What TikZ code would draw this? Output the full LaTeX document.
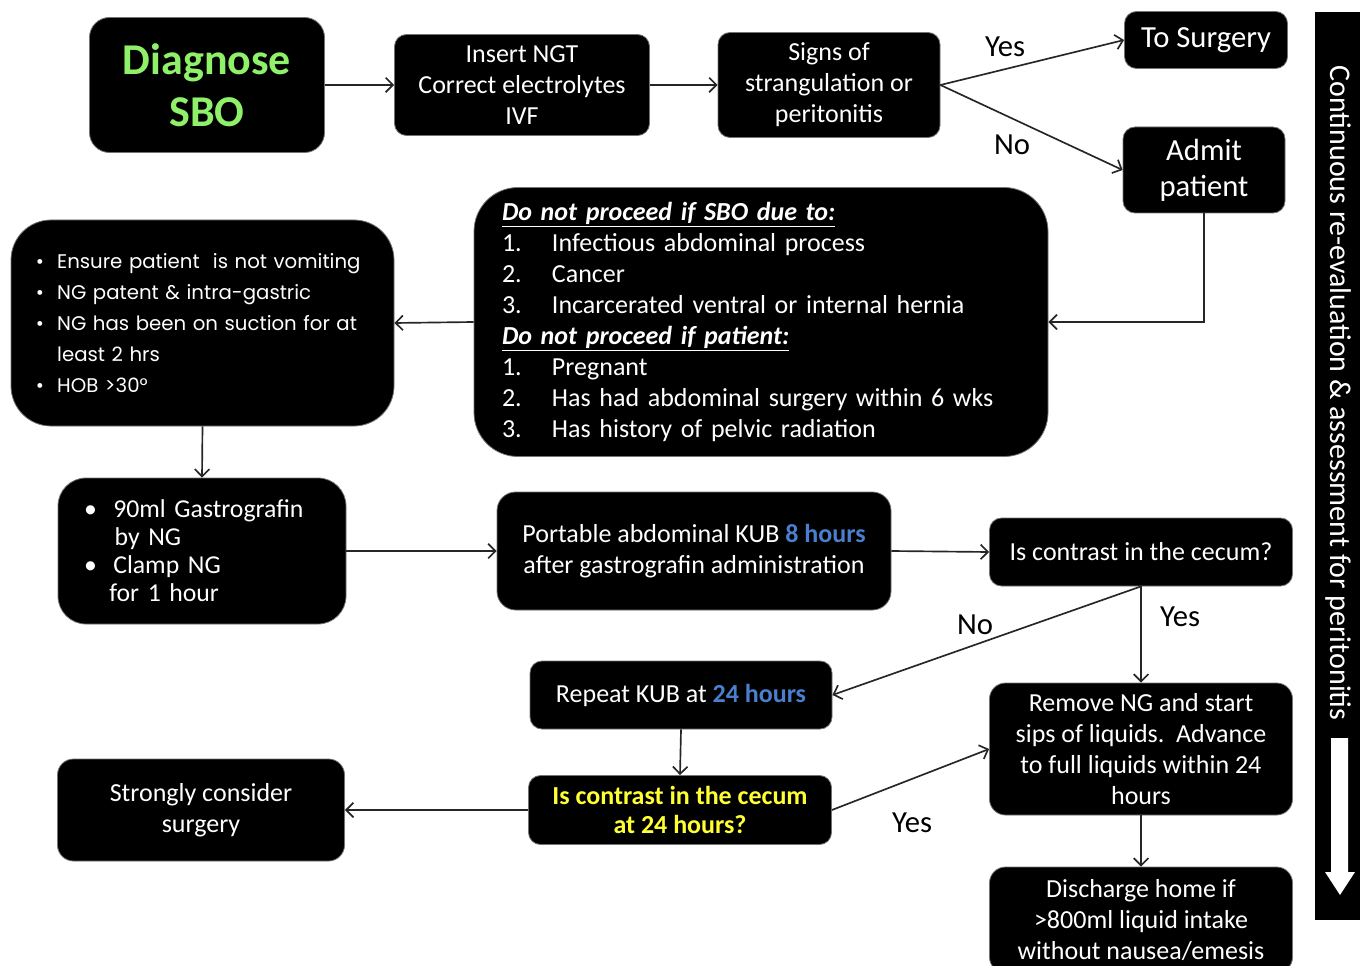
\documentclass[tikz,border=0pt]{standalone}
\usepackage{fontspec}
\setmainfont{Carlito}
\newfontfamily\gothic{Poppins}
\usetikzlibrary{arrows.meta,positioning,calc}
\definecolor{dxgreen}{HTML}{8FF06A}
\definecolor{hrblue}{HTML}{4A7FD0}
\definecolor{qyellow}{HTML}{FFFF33}
\newcommand{\bul}{\makebox[16pt][l]{\textbullet}}
\newcommand{\num}[1]{\makebox[37.5pt][l]{#1}}

\begin{document}
\begin{tikzpicture}[x=0.75pt,y=-0.75pt,
    box/.style={draw=black!55,line width=0.6pt,fill=black,text=white,align=center,
      rounded corners=9pt,inner sep=0pt,font=\fontsize{19.5}{23.3}\selectfont},
    arr/.style={draw=black!85,line width=1.25pt,-{Straight Barb[length=5.5pt,width=11pt]}},
    lbl/.style={font=\fontsize{23}{26}\selectfont,inner sep=0pt}]
  \useasboundingbox (0,0) rectangle (1360,966);

  % top row
  \node[box,rounded corners=15pt,minimum width=176.25pt,minimum height=101.25pt,
    text=dxgreen,font=\fontsize{33}{39}\selectfont\bfseries] (diag) at (207,85) {Diagnose\\SBO};
  \node[box,minimum width=191.25pt,minimum height=75.75pt] (ngt) at (522,85)
    {Insert NGT\\Correct electrolytes\\IVF};
  \node[box,minimum width=166.5pt,minimum height=78.75pt] (signs) at (829,85)
    {Signs of\\strangulation or\\peritonitis};
  \node[box,minimum width=122.25pt,minimum height=42.75pt,font=\fontsize{23}{27}\selectfont] (surg) at (1206,40) {To Surgery};
  \node[box,minimum width=121.5pt,minimum height=64.5pt,font=\fontsize{23}{27}\selectfont] (admit) at (1204,170) {Admit\\patient};

  % exclusions and checks
  \node[box,rounded corners=33pt,minimum width=430.5pt,minimum height=201.75pt,
    text width=388.5pt,align=left] (excl) at (761,322)
    {\underline{\textbf{\textit{Do not proceed if SBO due to:}}}\\
     \num{1.}Infectious abdominal process\\
     \num{2.}Cancer\\
     \num{3.}Incarcerated ventral or internal hernia\\
     \underline{\textbf{\textit{Do not proceed if patient:}}}\\
     \num{1.}Pregnant\\
     \num{2.}Has had abdominal surgery within 6 wks\\
     \num{3.}Has history of pelvic radiation};
  \node[box,rounded corners=30pt,minimum width=287.25pt,minimum height=154.5pt,
    text width=250pt,align=left,font=\gothic\fontsize{14.8}{23.3}\selectfont] (check) at (202.5,323)
    {\bul Ensure patient\ \ is not vomiting\\
     \bul NG patent \& intra-gastric\\
     \bul NG has been on suction for at\\
     \hspace*{16pt}least 2 hrs\\
     \bul HOB >30°};

  % contrast study
  \node[box,rounded corners=21pt,minimum width=216pt,minimum height=109.5pt,
    text width=177pt,align=left,font=\fontsize{19.3}{21}\selectfont] (gastro) at (202,551)
    {\makebox[22pt][l]{\textbullet}90ml Gastrografin\\
     \hspace*{23pt}by NG\\
     \makebox[22pt][l]{\textbullet}Clamp NG\\
     \hspace*{19pt}for 1 hour};
  \node[box,rounded corners=14pt,minimum width=295.5pt,minimum height=88.5pt] (kub) at (694,551)
    {Portable abdominal KUB \textcolor{hrblue}{\textbf{8 hours}}\\after gastrografin administration};
  \node[box,minimum width=227.25pt,minimum height=51pt] (cecum) at (1141,552)
    {Is contrast in the cecum?};
  \node[box,minimum width=226.5pt,minimum height=51pt] (repeat) at (681,695)
    {Repeat KUB at \textcolor{hrblue}{\textbf{24 hours}}};
  \node[box,minimum width=227.25pt,minimum height=51.75pt,text=qyellow,
    font=\fontsize{19.5}{22}\selectfont\bfseries] (cecumb) at (680,810)
    {Is contrast in the cecum\\at 24 hours?};
  \node[box,rounded corners=12pt,minimum width=215.25pt,minimum height=76.5pt] (strong) at (201,810)
    {Strongly consider\\surgery};
  \node[box,rounded corners=12pt,minimum width=227.25pt,minimum height=99pt] (remove) at (1141,749)
    {Remove NG and start\\sips of liquids.\ \ Advance\\to full liquids within 24\\hours};
  \node[box,rounded corners=12pt,minimum width=227.25pt,minimum height=79.5pt] (disch) at (1141,920)
    {Discharge home if\\>800ml liquid intake\\without nausea/emesis};

  % side bar
  \fill[black] (1315,12) rectangle (1360,920);
  \node[rotate=-90,text=white,font=\fontsize{22.5}{24}\selectfont,inner sep=0pt] (bar) at (1338,393)
    {Continuous re-evaluation \& assessment for peritonitis};
  \fill[white] (1331,738) -- (1348,738) -- (1348,872) -- (1355,872) -- (1340,895)
    -- (1325,872) -- (1331,872) -- cycle;

  % connectors
  \draw[arr] (diag.east) -- (ngt.west);
  \draw[arr] (ngt) -- (signs);
  \draw[arr] (signs.east) -- (surg.west);
  \draw[arr] (signs.east) -- (admit.west);
  \draw[arr] (admit.south) |- (excl.east);
  \draw[arr] (excl.west) -- (check.east);
  \draw[arr] (check.south) -- (gastro.north);
  \draw[arr] (gastro.east) -- (kub.west);
  \draw[arr] (kub.east) -- (cecum.west);
  \draw[arr] (cecum.south) -- (remove.north);
  \draw[arr] (cecum.south) -- (repeat.east);
  \draw[arr] (repeat.south) -- (cecumb.north);
  \draw[arr] (cecumb.west) -- (strong.east);
  \draw[arr] (cecumb.east) -- (remove.west);
  \draw[arr] (remove.south) -- (disch.north);

  % branch labels
  \node[lbl] (yes1) at (1005,47) {Yes};
  \node[lbl] (no1) at (1012,145) {No};
  \node[lbl] (no2) at (975,625) {No};
  \node[lbl] (yes2) at (1180,617) {Yes};
  \node[lbl] (yes3) at (912,823) {Yes};
\end{tikzpicture}
\end{document}
